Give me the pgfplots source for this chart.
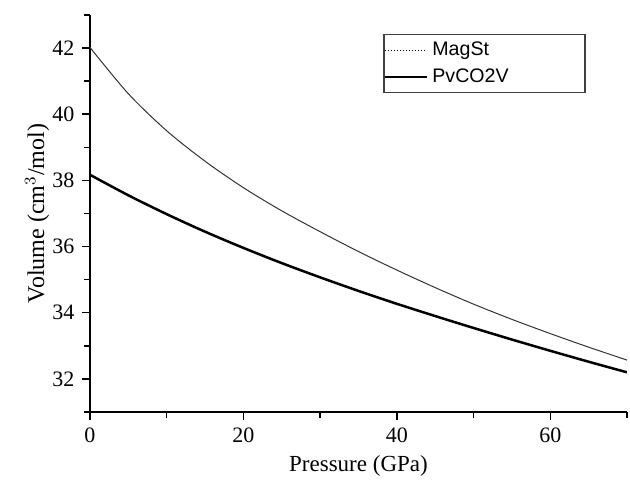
\documentclass[border=0pt]{standalone}
\usepackage{fontspec}
\setmainfont{Liberation Serif}
\newfontfamily\legfont{Liberation Sans}
\usepackage{pgfplots}
\pgfplotsset{compat=1.18}

\pgfplotstableread{
P     V
0     42.02
5     40.62
10    39.50
15    38.58
20    37.78
25    37.08
30    36.45
35    35.85
40    35.29
45    34.76
50    34.26
55    33.80
60    33.37
65    32.96
70    32.57
}\magst

\pgfplotstableread{
P     V
0     38.17
5     37.55
10    36.98
15    36.45
20    35.96
25    35.50
30    35.07
35    34.66
40    34.27
45    33.90
50    33.54
55    33.19
60    32.85
65    32.52
70    32.20
}\pvco

\begin{document}
\fontsize{11pt}{13pt}\selectfont
\begin{tikzpicture}
\begin{axis}[
    scale only axis,
    width=268.5pt, height=198.5pt,
    xmin=0, xmax=70, ymin=31, ymax=43,
    axis lines=left,
    axis line style={line width=0.75pt, -},
    xtick={0,20,40,60}, minor xtick={10,30,50,70},
    ytick={32,34,...,42}, minor ytick={31,33,...,43},
    tick align=outside,
    major tick length=4pt, minor tick length=3pt,
    tick style={line width=0.75pt, black},
    /pgf/number format/assume math mode=true,
    tick label style={font=\fontsize{11pt}{13pt}\selectfont},
    xlabel={Pressure (GPa)},
    ylabel={Volume (cm$^3$/mol)},
    xlabel style={font=\fontsize{11.5pt}{13pt}\selectfont, yshift=1pt},
    ylabel style={font=\fontsize{12pt}{14pt}\selectfont, yshift=-6pt},
    legend style={at={(0.546,0.952)}, anchor=north west,
        draw=black!75, line width=0.7pt,
        font=\legfont\fontsize{9.8pt}{11pt}\selectfont,
        row sep=0.8pt, inner xsep=0pt, inner ysep=1.5pt},
    legend cell align=left,
    legend image code/.code={\draw[#1] (0pt,0pt) -- (21pt,0pt);},
]
\addlegendimage{black, line width=0.5pt, densely dotted}
\addlegendentry{MagSt\hspace*{46pt}}
\addlegendimage{black, line width=1.25pt}
\addlegendentry{PvCO2V\hspace*{35pt}}
\addplot[black!80, line width=0.5pt, smooth, forget plot] table[x=P, y=V] {\magst};
\addplot[black, line width=1.25pt, smooth, forget plot] table[x=P, y=V] {\pvco};
\end{axis}
\path (current axis.south west) ++(-45pt,0pt);
\path (current axis.north east) ++(1.5pt,7.5pt);
\end{tikzpicture}
\end{document}
